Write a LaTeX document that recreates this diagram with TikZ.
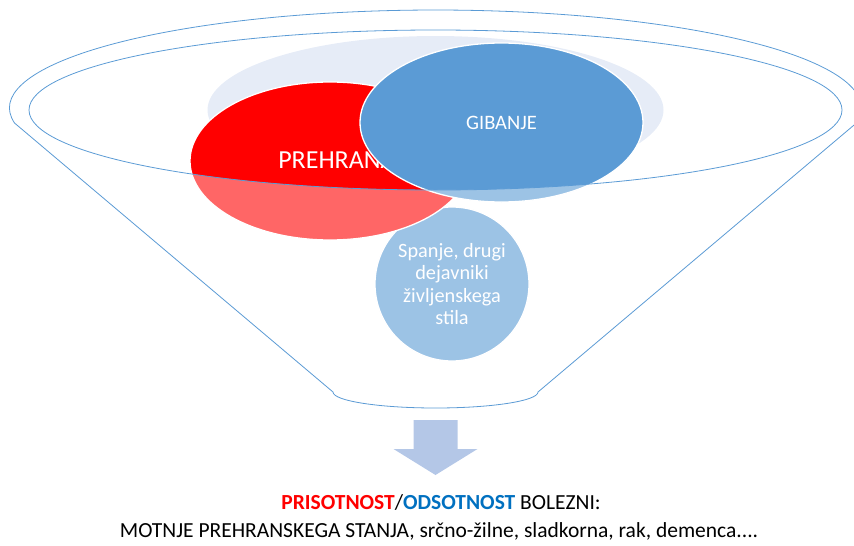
\documentclass[tikz,border=0pt]{standalone}
\usepackage{fontspec}
\setmainfont{Carlito}
\usetikzlibrary{shapes.geometric}
\definecolor{rimblue}{HTML}{5B9BD5}
\definecolor{haze}{HTML}{E6ECF7}
\definecolor{dietred}{HTML}{FF0000}
\definecolor{arrowblue}{HTML}{B4C7E7}
\definecolor{odsblue}{HTML}{0070C0}
\tikzset{
  bubble/.style={ellipse, draw=white, line width=1.3pt, inner sep=0pt, text=white, align=center},
  rim/.style={draw=rimblue, line width=0.8pt},
}

\begin{document}
\begin{tikzpicture}[x=1pt,y=-1pt]
                    \useasboundingbox (0,0) rectangle (854,546);
                    \clip (0,0) rectangle (854,546);

                    % back disc and the three factors
                    \node[ellipse, fill=haze, minimum width=456pt, minimum height=148pt] (haze) at (435.5,110) {};
                    \node[bubble, circle, fill=rimblue, minimum size=154pt,
                          font=\fontsize{20.3}{22.5}\selectfont] (sleep) at (452,284)
                          {Spanje, drugi\\dejavniki\\življenskega\\stila};
                    \node[bubble, fill=dietred, minimum width=280pt, minimum height=158pt] (diet) at (330,161) {};
                    \node[text=white, font=\fontsize{26}{30}\selectfont] (dietlabel) at (337,160) {PREHRANA};
                    \node[bubble, fill=rimblue, minimum width=283pt, minimum height=159pt,
                          font=\fontsize{20.5}{24}\selectfont] (move) at (501.5,122.5) {GIBANJE};

                    % front of the funnel
                    \fill[white, opacity=0.4] (29,110) arc[start angle=180, end angle=360, x radius=406.5pt, y radius=80pt]
                        -- (860,110) -- (860,420) -- (0,420) -- (0,110) -- cycle;
                    \draw[rim] (14.5,123) arc[start angle=188.8, end angle=-8.8, x radius=426pt, y radius=98pt]
                        -- (538,392) arc[start angle=0, end angle=-180, x radius=102.5pt, y radius=16pt] -- cycle;
                    \draw[rim] (435.5,110) ellipse[x radius=406.5pt, y radius=80pt];

                    % arrow and result
                    \fill[arrowblue] (413.5,420) -- (457.5,420) -- (457.5,449) -- (477.5,449)
                        -- (435.5,475) -- (393.5,449) -- (413.5,449) -- cycle;
                    \node[font=\fontsize{21.5}{25}\selectfont] (outcome) at (441,502)
                        {\textcolor{dietred}{\textbf{PRISOTNOST}}/\textcolor{odsblue}{\textbf{ODSOTNOST}} BOLEZNI:};
                    \node[font=\fontsize{21.5}{25}\selectfont] (diseases) at (439,531)
                        {MOTNJE PREHRANSKEGA STANJA, srčno-žilne, sladkorna, rak, demenca....};
                \end{tikzpicture}
\end{document}
